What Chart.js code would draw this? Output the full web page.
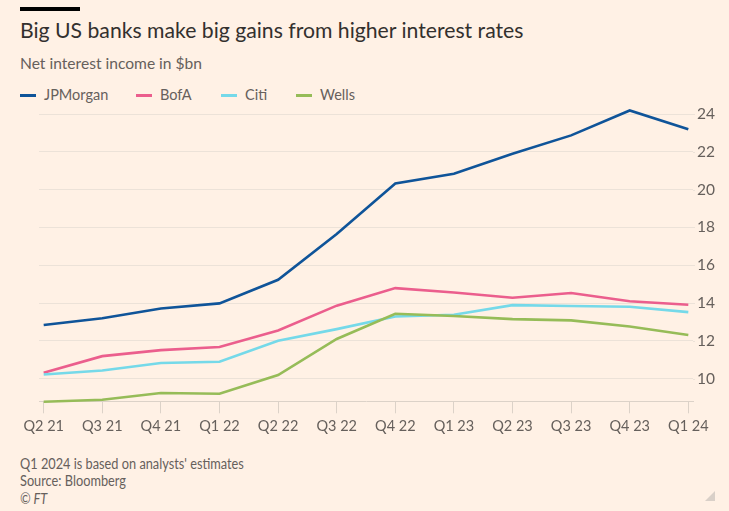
<!DOCTYPE html>
<html>
<head>
<meta charset="utf-8">
<script src="https://cdn.jsdelivr.net/npm/chart.js@4"></script>
<style>
  html, body { margin: 0; padding: 0; }
  body { width: 729px; height: 511px; background: #fff1e5; position: relative; overflow: hidden; font-family: Lato, sans-serif; }
  #chart { position: absolute; left: 0; top: 0; }
  .abs { position: absolute; white-space: nowrap; }
  .bar { left: 20px; top: 7px; width: 60px; height: 4px; background: #000; }
  .title { left: 20px; top: 17px; font-size: 21.2px; color: #33302e; }
  .sub { left: 20px; top: 54px; font-size: 15.6px; color: #66605c; }
  .legend { left: 20px; top: 86px; font-size: 14.5px; color: #66605c; }
  .legend span.item { position: absolute; top: 0; }
  .legend i { display: inline-block; width: 16px; height: 3px; vertical-align: middle; margin-right: 8px; position: relative; top: -1px; }
  .foot { left: 20px; font-size: 14.5px; color: #66605c; transform: scaleX(0.88); transform-origin: left top; }
  .tri { right: 14px; top: 491px; width: 0; height: 0; border-left: 10px solid transparent; border-bottom: 10px solid #d9d0c8; }
</style>
</head>
<body>
<div class="abs bar"></div>
<div class="abs title">Big US banks make big gains from higher interest rates</div>
<div class="abs sub">Net interest income in $bn</div>
<div class="abs legend" id="legend"></div>
<div class="abs foot" style="top:455px">Q1 2024 is based on analysts' estimates</div>
<div class="abs foot" style="top:472px">Source: Bloomberg</div>
<div class="abs foot" style="top:490px;font-style:italic">© FT</div>
<div class="abs tri"></div>
<canvas id="chart" width="729" height="511"></canvas>
<script>
const quarters = ['Q2 21', 'Q3 21', 'Q4 21', 'Q1 22', 'Q2 22', 'Q3 22', 'Q4 22', 'Q1 23', 'Q2 23', 'Q3 23', 'Q4 23', 'Q1 24']
const jpmorgan = [12.84, 13.19, 13.71, 13.98, 15.23, 17.65, 20.33, 20.84, 21.90, 22.87, 24.19, 23.19]
const bofa = [10.31, 11.19, 11.51, 11.67, 12.55, 13.86, 14.79, 14.56, 14.28, 14.53, 14.09, 13.91]
const citi = [10.22, 10.43, 10.83, 10.89, 12.0, 12.62, 13.29, 13.38, 13.89, 13.84, 13.80, 13.52]
const wells = [8.78, 8.88, 9.24, 9.20, 10.19, 12.10, 13.43, 13.31, 13.15, 13.08, 12.76, 12.31]
const yTicks = [10, 12, 14, 16, 18, 20, 22, 24]

const seriesList = [
  { label: 'JPMorgan', data: jpmorgan, color: '#0f5499' },
  { label: 'BofA', data: bofa, color: '#eb5e8d' },
  { label: 'Citi', data: citi, color: '#75d9e9' },
  { label: 'Wells', data: wells, color: '#96bc58' }
]

// legend
const legendX = [0, 116, 201, 276]
const legend = document.getElementById('legend')
seriesList.forEach((s, i) => {
  const span = document.createElement('span')
  span.className = 'item'
  span.style.left = legendX[i] + 'px'
  span.innerHTML = `<i style="background:${s.color}"></i>${s.label}`
  legend.appendChild(span)
})

const gray = '#66605c'

new Chart(document.getElementById('chart'), {
  type: 'line',
  data: {
    datasets: seriesList.slice().reverse().map(s => ({
      label: s.label,
      data: s.data.map((v, i) => ({ x: i, y: v })),
      borderColor: s.color,
      borderWidth: 2.6,
      pointRadius: 0,
      tension: 0,
      clip: false
    }))
  },
  options: {
    responsive: false,
    animation: false,
    layout: { padding: { top: 102.7, left: 39, right: 0, bottom: 70.7 } },
    plugins: { legend: { display: false }, tooltip: { enabled: false } },
    scales: {
      x: {
        type: 'linear',
        min: -0.08,
        max: quarters.length - 1 + 0.08,
        afterBuildTicks: scale => { scale.ticks = quarters.map((q, i) => ({ value: i })) },
        afterFit: scale => { scale.height = 39 },
        grid: { drawOnChartArea: false, drawTicks: true, tickLength: 12, color: '#dcd2c8' },
        border: { color: '#dcd2c8', width: 1 },
        ticks: {
          padding: 4,
          color: gray,
          font: { family: 'Lato', size: 14.5 },
          maxRotation: 0,
          autoSkip: false,
          callback: v => quarters[v]
        }
      },
      y: {
        position: 'right',
        min: 8.8,
        max: 24.6,
        afterBuildTicks: scale => { scale.ticks = yTicks.map(v => ({ value: v })) },
        afterFit: scale => { scale.width = 36 },
        grid: { drawTicks: false, color: '#ece2d8' },
        border: { display: false },
        ticks: {
          padding: 4,
          color: gray,
          font: { family: 'Lato', size: 15.5 }
        }
      }
    }
  },
  plugins: [{
    // extend horizontal gridlines a few px past the plot edge
    id: 'gridExtend',
    beforeDatasetsDraw(chart) {
      const { ctx, chartArea, scales } = chart
      ctx.save()
      ctx.strokeStyle = '#ece2d8'
      ctx.lineWidth = 1
      yTicks.forEach(v => {
        const y = Math.round(scales.y.getPixelForValue(v)) + 0.5
        ctx.beginPath()
        ctx.moveTo(chartArea.right, y)
        ctx.lineTo(chartArea.right + 2, y)
        ctx.stroke()
      })
      ctx.restore()
    }
  }]
})
</script>
</body>
</html>
